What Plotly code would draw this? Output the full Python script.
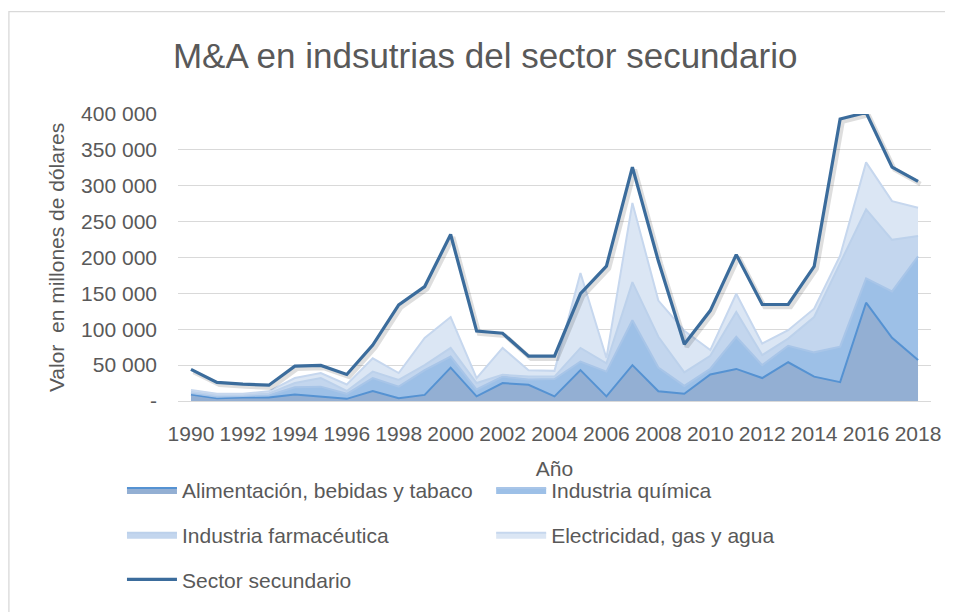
import plotly.graph_objects as go

years = list(range(1990, 2019))

alimentacion = [9000, 4000, 5000, 5000, 9000, 6500, 3000, 14000, 4000, 8500,
                46500, 6500, 25000, 22500, 6500, 43000, 6500, 50000, 13500, 10000,
                37000, 44700, 32000, 54000, 34000, 26300, 137000, 88000, 57000]
quimica = [2000, 2000, 2000, 3000, 10000, 13500, 7000, 18000, 16000, 34500,
           15500, 9500, 9000, 7500, 24000, 12000, 34500, 62600, 33100, 11000,
           8000, 44800, 18000, 23000, 33800, 49400, 34000, 64700, 144600]
farmaceutica = [2000, 2000, 1500, 2500, 6000, 12000, 4000, 9000, 9500, 7000,
                12000, 9000, 2500, 4000, 3500, 19000, 11600, 53000, 42900, 19000,
                18000, 34500, 14000, 10000, 49200, 115300, 96000, 71900, 28400]
electricidad = [2500, 2000, 1500, 3000, 7000, 7000, 9000, 18500, 9500, 38000,
                43000, 7000, 37500, 9000, 8000, 104500, 7400, 110400, 50500, 58000,
                8000, 25500, 16000, 11700, 11700, 11500, 65600, 54000, 39400]
sector_secundario = [44000, 26000, 23500, 22000, 48500, 49500, 37000, 78000, 134000, 159500,
                     232000, 97500, 94500, 62500, 62500, 149500, 188000, 326000, 195000, 79000,
                     126000, 204000, 134500, 134500, 187500, 393000, 402000, 326000, 306000]

y_ticks = [0, 50000, 100000, 150000, 200000, 250000, 300000, 350000, 400000]
y_ticktext = ["-", "50 000", "100 000", "150 000", "200 000", "250 000", "300 000", "350 000", "400 000"]
x_ticks = list(range(1990, 2019, 2))

FONT = "Liberation Sans, Arial, sans-serif"
GRAY = "#595959"
FS = 21

XR = [1989.5, 2018.5]
YR = [0, 400000]

fig = go.Figure()
areas = [
    ("Alimentación, bebidas y tabaco", alimentacion, "#93afd3", "#5592d2", "legend"),
    ("Industria química", quimica, "#9dc0e7", "#a8c5e8", "legend2"),
    ("Industria farmacéutica", farmaceutica, "#c3d6ee", "#bcd1eb", "legend3"),
    ("Electricidad, gas y agua", electricidad, "#dbe6f4", "#c6d7ee", "legend4"),
]
for name, vals, fillc, linec, lg in areas:
    fig.add_trace(go.Scatter(
        x=years, y=vals, name=name, mode="lines", stackgroup="one",
        fillcolor=fillc, line=dict(color=linec, width=2), legend=lg,
        hoverinfo="x+y+name"))

# soft shadow of the total line (same data on a slightly shifted overlay axis)
fig.add_trace(go.Scatter(
    x=years, y=sector_secundario, mode="lines", showlegend=False, hoverinfo="skip",
    line=dict(color="rgba(0,0,0,0.13)", width=4.5), xaxis="x2", yaxis="y2"))

fig.add_trace(go.Scatter(
    x=years, y=sector_secundario, name="Sector secundario", mode="lines",
    line=dict(color="#3b6c9c", width=3.2), legend="legend5",
    xaxis="x3", yaxis="y3"))

# page body offset (~8 px) compensated: work in absolute page pixels
OFF = 8
W, H = 953 - OFF, 612 - OFF
left_abs, right_abs, top_abs, bot_abs = 178, 930.6, 114, 403
ml = left_abs - OFF
mr = W - (right_abs - OFF)
mt = top_abs - OFF
mb = H - (bot_abs - OFF)
pw, ph = W - ml - mr, H - mt - mb

def px(x):
    return (x - OFF - ml) / pw

def py(y):
    return 1 - (y - OFF - mt) / ph

# shadow offset in pixels -> axis range shift
sx = 2.5 * (XR[1] - XR[0]) / pw
sy = 2.5 * (YR[1] - YR[0]) / ph

leg_common = dict(orientation="h", xanchor="left", yanchor="middle",
                  font=dict(family=FONT, size=FS, color=GRAY),
                  bgcolor="rgba(0,0,0,0)", itemwidth=50)

hidden = dict(visible=False, showgrid=False, zeroline=False)

fig.update_layout(
    width=W, height=H,
    margin=dict(l=ml, r=mr, t=mt, b=mb),
    paper_bgcolor="white", plot_bgcolor="white",
    font=dict(family=FONT, size=FS, color=GRAY),
    title=dict(text="M&A en indsutrias del sector secundario",
               font=dict(family=FONT, size=35, color=GRAY),
               x=px(485), xref="paper", xanchor="center",
               y=1 - (56 - OFF) / H, yref="container", yanchor="middle"),
    xaxis=dict(range=XR, tickmode="array", tickvals=x_ticks,
               showgrid=False, showline=True, linecolor="#d9d9d9", linewidth=1.3,
               ticks="", ticklabelstandoff=14, tickangle=0,
               tickfont=dict(family=FONT, size=FS, color=GRAY),
               title=dict(text="Año", standoff=16,
                          font=dict(family=FONT, size=FS, color=GRAY))),
    yaxis=dict(range=YR, tickmode="array", tickvals=y_ticks,
               ticktext=y_ticktext, showgrid=True, gridcolor="#d9d9d9",
               gridwidth=1.3, zeroline=False, ticks="", ticklabelstandoff=20,
               tickfont=dict(family=FONT, size=FS, color=GRAY),
               title=dict(text="Valor  en millones de dólares", standoff=10,
                          font=dict(family=FONT, size=FS, color=GRAY))),
    xaxis2=dict(range=[XR[0] - sx, XR[1] - sx], overlaying="x", **hidden),
    yaxis2=dict(range=[YR[0] + sy, YR[1] + sy], overlaying="y", **hidden),
    xaxis3=dict(range=XR, overlaying="x", **hidden),
    yaxis3=dict(range=YR, overlaying="y", **hidden),
    legend=dict(x=px(122), y=py(493), **leg_common),
    legend2=dict(x=px(491), y=py(493), **leg_common),
    legend3=dict(x=px(122), y=py(538), **leg_common),
    legend4=dict(x=px(491), y=py(538), **leg_common),
    legend5=dict(x=px(122), y=py(583), **leg_common),
    shapes=[dict(type="rect", xref="paper", yref="paper",
                 x0=px(9), x1=px(950), y0=py(625), y1=py(11),
                 line=dict(color="#d9d9d9", width=1.3), fillcolor="rgba(0,0,0,0)",
                 layer="below")],
    showlegend=True,
)

fig.write_html("out.html")
